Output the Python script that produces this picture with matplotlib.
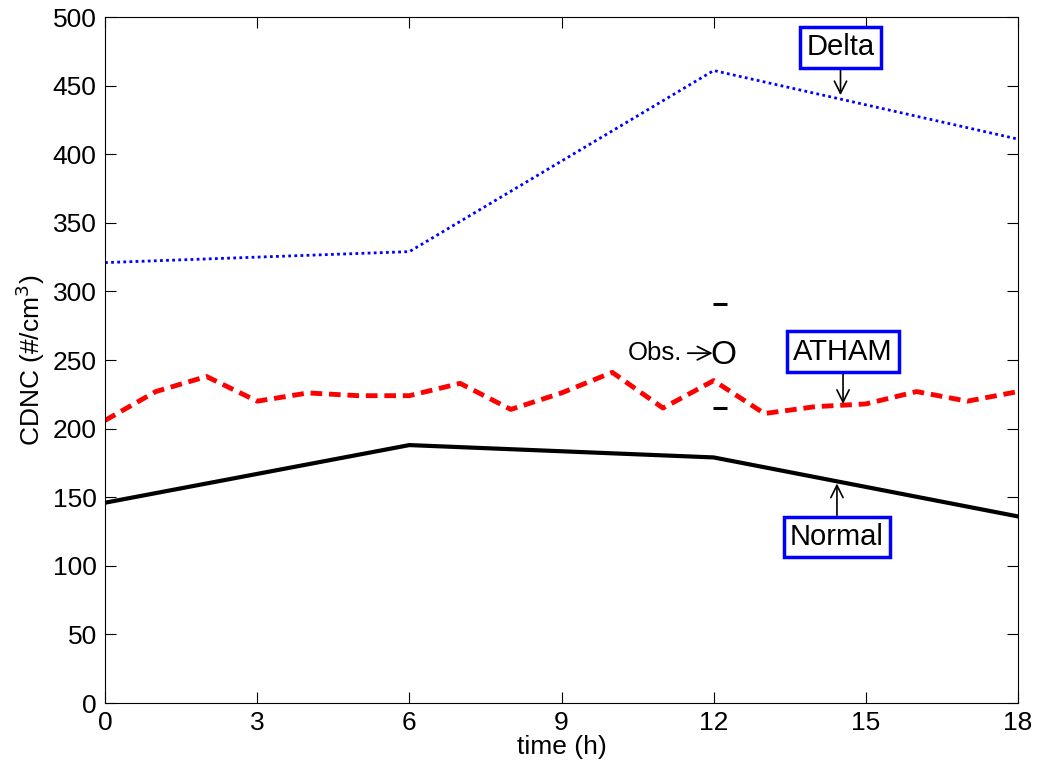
import numpy as np
import matplotlib
matplotlib.use('Agg')
import matplotlib.pyplot as plt

plt.rcParams['font.family'] = ['Liberation Sans', 'DejaVu Sans']

# ATHAM run, hourly output
t_atham = list(range(19))
atham = [206, 227, 238, 220, 226, 224, 224, 233, 214, 226, 241,
         215, 235, 211, 216, 218, 227, 220, 227]

# parameterisations, 6-hourly
t_param = [0, 6, 12, 18]
normal = [146, 188, 179, 136]
delta = [321, 329, 461, 411]

# observation at 12 h with spread
obs_t = 12
obs_mean = 253
obs_lo = 215
obs_hi = 291

fig = plt.figure(figsize=(10.37, 7.63), dpi=100)
ax = fig.add_axes([0.1013, 0.0786, 0.8804, 0.8991])

ax.plot(t_param, delta, color='blue', lw=2, linestyle=(0, (1, 1.2)))
ax.plot(t_atham, atham, color='red', lw=3.5, linestyle=(0, (2.4, 1.4)))
ax.plot(t_param, normal, color='black', lw=3)

# obs marker and spread
ax.text(obs_t + 0.2, obs_mean, 'O', fontsize=24, ha='center', va='center')
ax.plot([obs_t + 0.12, obs_t + 0.12], [obs_lo, obs_hi], linestyle='none', marker='_',
        markersize=10, mew=2.2, color='black')
ax.annotate('Obs.', xy=(obs_t - 0.02, obs_mean + 2), xytext=(obs_t - 0.62, obs_mean + 2),
            fontsize=18.5, ha='right', va='center',
            arrowprops=dict(arrowstyle='->', color='black', lw=1.3, relpos=(1, 0.5),
                            shrinkA=2, shrinkB=0, mutation_scale=24))

box = dict(boxstyle='square,pad=0.22', fc='white', ec='blue', lw=2.5)
arr = dict(arrowstyle='->', color='black', lw=1.2, shrinkA=0, shrinkB=0, mutation_scale=22)
ax.annotate('Delta', xy=(14.5, 443), xytext=(14.5, 478), fontsize=21,
            ha='center', va='center', bbox=box, arrowprops=arr)
ax.annotate('ATHAM', xy=(14.55, 218), xytext=(14.55, 256), fontsize=21,
            ha='center', va='center', bbox=box, arrowprops=arr)
ax.annotate('Normal', xy=(14.43, 160), xytext=(14.43, 121), fontsize=21,
            ha='center', va='center', bbox=box, arrowprops=arr)

ax.set_xlim(0, 18)
ax.set_ylim(0, 500)
ax.set_xticks(range(0, 19, 3))
ax.set_yticks(range(0, 501, 50))
ax.tick_params(direction='in', length=8, labelsize=19, top=True, right=True, pad=6)
ax.set_xlabel('time (h)', fontsize=19, labelpad=0)
ax.set_ylabel('CDNC (#/cm$^3$)', fontsize=19, labelpad=4)

fig.savefig('out.png', dpi=100)
